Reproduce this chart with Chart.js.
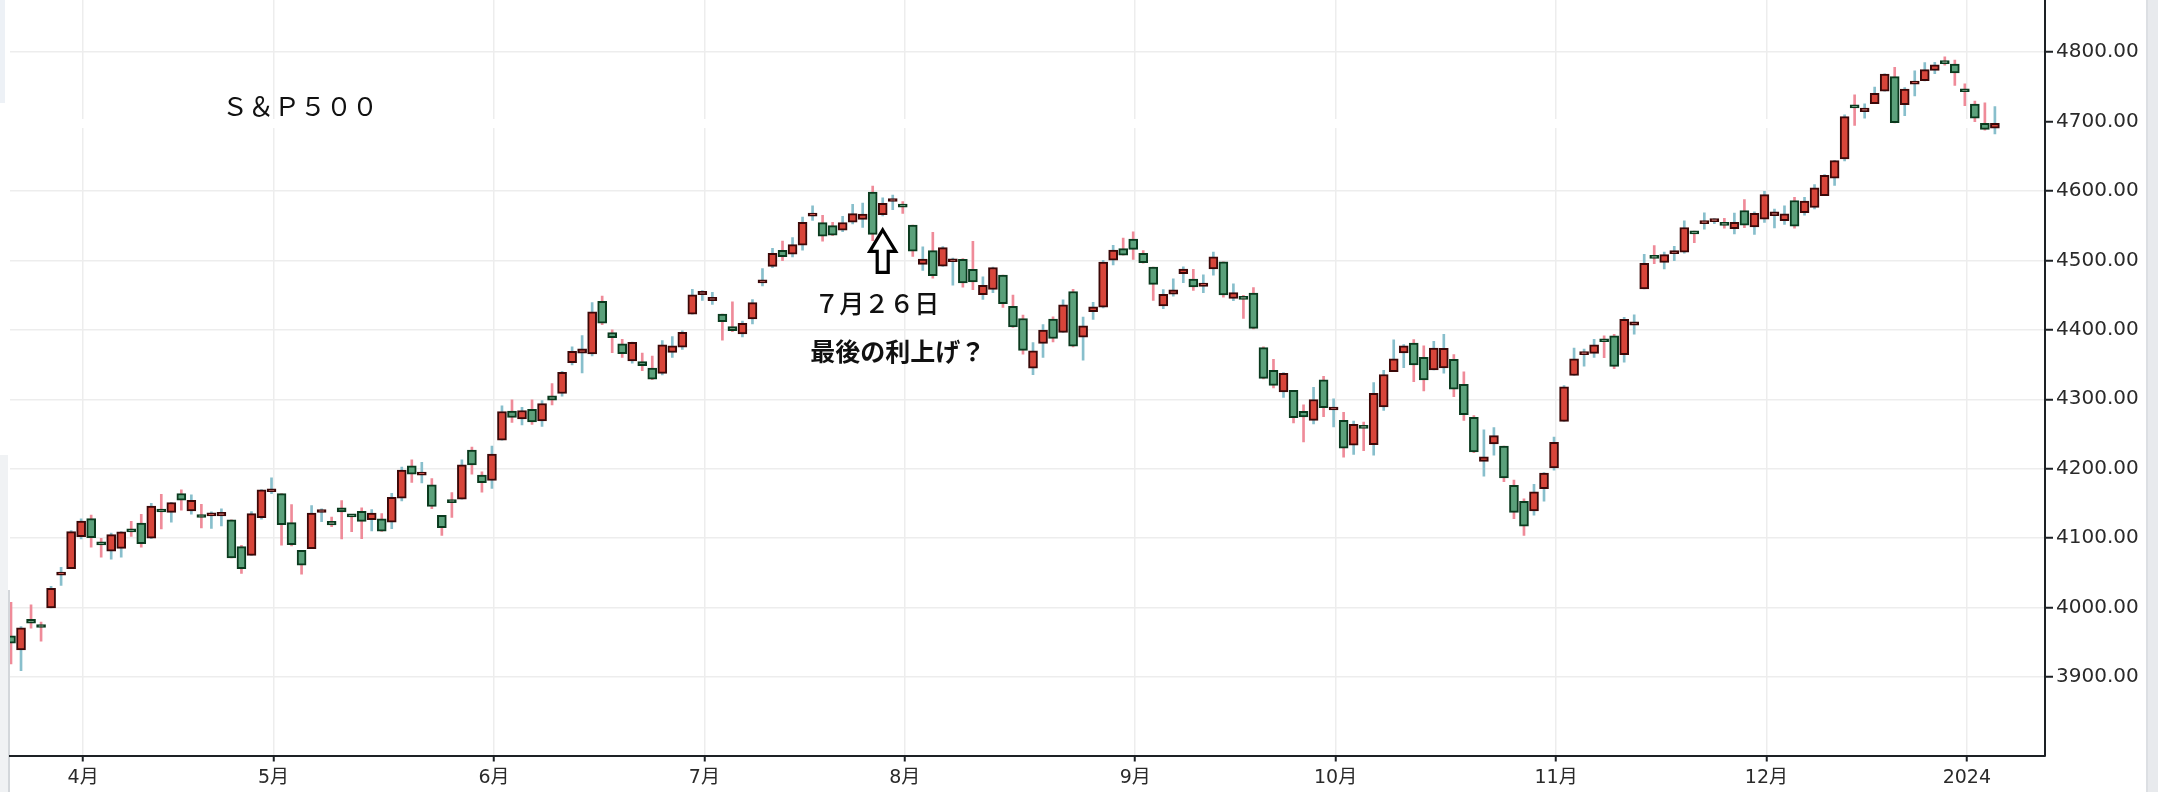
<!DOCTYPE html>
<html>
<head>
<meta charset="utf-8">
<title>S&P500</title>
<script src="https://cdn.jsdelivr.net/npm/chart.js@4.4.1/dist/chart.umd.min.js"></script>
<style>
  html, body { margin: 0; padding: 0; background: #fff; }
  #wrap { position: relative; width: 2158px; height: 792px; }
</style>
</head>
<body>
<div id="wrap"><canvas id="myChart"></canvas></div>
<script>
const dates = [
  "2023-03-23","2023-03-24","2023-03-27","2023-03-28","2023-03-29","2023-03-30","2023-03-31",
  "2023-04-03","2023-04-04","2023-04-05","2023-04-06","2023-04-10","2023-04-11","2023-04-12","2023-04-13","2023-04-14","2023-04-17","2023-04-18","2023-04-19","2023-04-20","2023-04-21","2023-04-24","2023-04-25","2023-04-26","2023-04-27","2023-04-28",
  "2023-05-01","2023-05-02","2023-05-03","2023-05-04","2023-05-05","2023-05-08","2023-05-09","2023-05-10","2023-05-11","2023-05-12","2023-05-15","2023-05-16","2023-05-17","2023-05-18","2023-05-19","2023-05-22","2023-05-23","2023-05-24","2023-05-25","2023-05-26","2023-05-30","2023-05-31",
  "2023-06-01","2023-06-02","2023-06-05","2023-06-06","2023-06-07","2023-06-08","2023-06-09","2023-06-12","2023-06-13","2023-06-14","2023-06-15","2023-06-16","2023-06-20","2023-06-21","2023-06-22","2023-06-23","2023-06-26","2023-06-27","2023-06-28","2023-06-29","2023-06-30",
  "2023-07-03","2023-07-05","2023-07-06","2023-07-07","2023-07-10","2023-07-11","2023-07-12","2023-07-13","2023-07-14","2023-07-17","2023-07-18","2023-07-19","2023-07-20","2023-07-21","2023-07-24","2023-07-25","2023-07-26","2023-07-27","2023-07-28","2023-07-31",
  "2023-08-01","2023-08-02","2023-08-03","2023-08-04","2023-08-07","2023-08-08","2023-08-09","2023-08-10","2023-08-11","2023-08-14","2023-08-15","2023-08-16","2023-08-17","2023-08-18","2023-08-21","2023-08-22","2023-08-23","2023-08-24","2023-08-25","2023-08-28","2023-08-29","2023-08-30","2023-08-31",
  "2023-09-01","2023-09-05","2023-09-06","2023-09-07","2023-09-08","2023-09-11","2023-09-12","2023-09-13","2023-09-14","2023-09-15","2023-09-18","2023-09-19","2023-09-20","2023-09-21","2023-09-22","2023-09-25","2023-09-26","2023-09-27","2023-09-28","2023-09-29",
  "2023-10-02","2023-10-03","2023-10-04","2023-10-05","2023-10-06","2023-10-09","2023-10-10","2023-10-11","2023-10-12","2023-10-13","2023-10-16","2023-10-17","2023-10-18","2023-10-19","2023-10-20","2023-10-23","2023-10-24","2023-10-25","2023-10-26","2023-10-27","2023-10-30","2023-10-31",
  "2023-11-01","2023-11-02","2023-11-03","2023-11-06","2023-11-07","2023-11-08","2023-11-09","2023-11-10","2023-11-13","2023-11-14","2023-11-15","2023-11-16","2023-11-17","2023-11-20","2023-11-21","2023-11-22","2023-11-24","2023-11-27","2023-11-28","2023-11-29","2023-11-30",
  "2023-12-01","2023-12-04","2023-12-05","2023-12-06","2023-12-07","2023-12-08","2023-12-11","2023-12-12","2023-12-13","2023-12-14","2023-12-15","2023-12-18","2023-12-19","2023-12-20","2023-12-21","2023-12-22","2023-12-26","2023-12-27","2023-12-28","2023-12-29",
  "2024-01-02","2024-01-03","2024-01-04","2024-01-05"
];

const opens = [
  3959.21,3939.21,3982.93,3974.13,3999.53,4046.74,4056.18,
  4102.20,4128.03,4094.50,4081.15,4085.20,4110.29,4121.72,4100.04,4140.11,4137.17,4164.26,4139.33,4130.48,4132.14,4132.07,4126.43,4087.78,4075.29,4129.63,
  4166.79,4164.10,4122.25,4082.61,4084.73,4136.98,4124.25,4143.74,4132.24,4138.54,4126.65,4127.95,4122.85,4157.68,4204.15,4190.78,4176.80,4132.96,4155.71,4156.16,4226.71,4190.74,
  4183.03,4241.01,4282.99,4271.61,4285.47,4268.69,4304.88,4308.32,4352.61,4366.29,4365.33,4440.95,4396.11,4380.01,4355.40,4354.17,4344.84,4337.36,4367.48,4374.94,4422.44,
  4450.48,4442.04,4422.62,4404.54,4394.23,4415.55,4467.69,4491.50,4514.61,4508.86,4521.78,4563.87,4554.38,4550.16,4543.39,4555.19,4558.96,4598.26,4565.75,4584.82,
  4578.83,4550.93,4494.27,4513.96,4491.58,4498.03,4501.57,4487.16,4450.69,4458.13,4478.87,4433.79,4416.32,4344.88,4380.28,4415.33,4396.44,4455.16,4389.38,4426.03,4432.75,4500.34,4517.01,
  4530.60,4510.06,4490.35,4434.55,4451.30,4480.98,4473.27,4462.65,4487.78,4497.98,4445.13,4445.41,4452.81,4374.36,4341.74,4310.62,4312.88,4282.63,4269.65,4328.18,
  4284.52,4269.75,4233.83,4259.31,4234.79,4289.02,4339.75,4366.59,4380.94,4360.49,4342.37,4345.23,4357.35,4321.36,4273.85,4210.40,4235.79,4232.42,4175.99,4152.93,4139.39,4171.33,
  4201.27,4268.26,4334.23,4364.27,4366.21,4384.37,4391.41,4364.15,4406.66,4458.97,4505.30,4497.08,4509.55,4511.70,4538.77,4553.04,4555.84,4554.86,4545.55,4571.84,4548.37,
  4559.43,4564.37,4557.25,4586.23,4568.84,4576.20,4593.39,4618.30,4646.20,4721.04,4714.23,4725.58,4743.72,4764.73,4724.29,4753.92,4758.86,4773.45,4786.44,4782.88,
  4745.20,4725.07,4697.42,4690.57
];

const highs = [
  4007.66,3972.74,4003.83,3979.20,4030.59,4057.85,4110.75,
  4127.66,4133.13,4099.69,4107.32,4109.50,4124.26,4134.37,4150.26,4163.19,4151.72,4169.48,4162.57,4148.57,4138.02,4142.41,4126.43,4089.67,4138.24,4170.06,
  4186.92,4164.10,4148.30,4082.61,4147.02,4142.30,4130.35,4154.28,4132.80,4143.74,4141.25,4135.54,4164.67,4202.20,4212.91,4209.22,4185.68,4132.96,4165.74,4212.87,4231.10,4195.44,
  4232.43,4290.67,4299.28,4288.33,4299.19,4298.01,4322.62,4340.13,4375.37,4391.82,4439.20,4448.47,4400.15,4386.22,4382.25,4366.55,4362.06,4384.42,4390.35,4398.39,4458.48,
  4456.46,4454.06,4422.62,4440.39,4412.60,4443.64,4488.34,4517.38,4527.76,4532.85,4562.30,4578.43,4564.74,4555.00,4563.41,4580.62,4582.47,4607.07,4590.16,4594.22,
  4584.62,4550.93,4519.49,4540.34,4519.84,4503.31,4502.44,4527.37,4476.23,4490.33,4478.87,4449.95,4421.17,4381.82,4407.55,4418.59,4443.18,4458.30,4418.46,4439.56,4500.14,4521.65,4532.26,
  4541.25,4514.29,4490.35,4457.81,4473.53,4490.77,4487.11,4479.39,4511.99,4497.98,4466.36,4449.85,4461.03,4375.70,4357.40,4338.51,4313.01,4292.07,4317.27,4333.15,
  4300.58,4281.15,4268.50,4267.13,4324.10,4341.73,4385.46,4378.64,4385.85,4377.10,4383.33,4393.57,4364.20,4339.54,4276.56,4255.84,4259.38,4232.42,4183.60,4156.70,4177.47,4194.33,
  4245.64,4319.72,4373.62,4372.21,4386.26,4391.20,4393.40,4418.03,4421.76,4508.67,4521.17,4511.99,4520.12,4557.11,4542.14,4568.43,4560.31,4560.52,4568.14,4587.64,4569.89,
  4599.39,4574.06,4578.56,4590.74,4590.92,4609.23,4623.71,4643.93,4709.69,4738.57,4725.53,4749.52,4768.69,4778.01,4748.71,4772.94,4784.72,4785.39,4793.30,4788.43,
  4754.33,4729.29,4726.78,4721.49
];

const lows = [
  3919.05,3909.16,3970.49,3951.53,3999.53,4032.10,4056.18,
  4098.79,4086.87,4072.56,4069.84,4072.55,4102.61,4086.94,4099.40,4113.20,4123.18,4140.36,4134.49,4114.57,4113.86,4117.77,4071.38,4049.35,4075.29,4127.18,
  4164.12,4089.72,4088.86,4048.28,4084.73,4123.81,4116.65,4098.92,4109.29,4099.12,4110.27,4109.86,4113.62,4153.50,4180.20,4179.68,4142.54,4103.98,4129.73,4156.16,4192.18,4166.15,
  4171.64,4241.01,4266.82,4263.09,4263.96,4261.07,4291.70,4304.37,4349.31,4337.85,4362.60,4407.44,4367.19,4360.14,4351.82,4341.34,4328.08,4335.00,4360.22,4371.97,4422.44,
  4442.29,4436.61,4385.05,4397.40,4389.92,4408.46,4463.23,4489.36,4499.56,4504.90,4514.59,4557.48,4527.56,4535.79,4541.29,4552.42,4547.58,4528.56,4564.01,4573.14,
  4567.53,4505.75,4485.54,4474.55,4491.15,4464.39,4461.33,4457.92,4443.98,4453.44,4432.19,4403.55,4364.83,4335.31,4360.30,4382.77,4396.44,4375.55,4356.29,4414.98,4431.68,4493.59,4507.39,
  4501.35,4496.01,4442.38,4430.46,4448.38,4467.89,4456.83,4453.52,4478.69,4447.21,4442.11,4416.61,4401.38,4329.17,4316.49,4302.70,4265.98,4238.63,4264.38,4274.86,
  4260.21,4216.45,4220.48,4225.91,4219.55,4283.79,4339.64,4345.34,4325.43,4311.97,4342.37,4337.54,4303.84,4269.69,4223.03,4189.22,4219.43,4181.42,4127.90,4103.78,4132.94,4153.12,
  4197.74,4268.26,4334.23,4347.53,4360.30,4359.76,4343.94,4353.34,4393.82,4458.97,4495.31,4487.83,4499.66,4510.36,4525.51,4545.05,4552.80,4546.32,4537.96,4547.15,4537.24,
  4554.71,4546.72,4551.68,4546.50,4565.22,4574.06,4593.39,4608.09,4643.23,4694.34,4704.69,4725.58,4743.72,4697.82,4708.35,4736.77,4758.45,4768.90,4780.98,4751.99,
  4722.67,4699.71,4687.53,4682.11
];

const closes = [
  3948.72,3970.99,3977.53,3971.27,4027.81,4050.83,4109.31,
  4124.51,4100.60,4090.38,4105.02,4109.11,4108.94,4091.95,4146.22,4137.64,4151.32,4154.87,4154.52,4129.79,4133.52,4137.04,4071.63,4055.99,4135.35,4169.48,
  4167.87,4119.58,4090.75,4061.22,4136.25,4138.12,4119.17,4137.64,4130.62,4124.08,4136.28,4109.90,4158.77,4198.05,4191.98,4192.63,4145.58,4115.24,4151.28,4205.45,4205.52,4179.83,
  4221.02,4282.37,4273.79,4283.85,4267.52,4293.93,4298.86,4338.93,4369.01,4372.59,4425.84,4409.59,4388.71,4365.69,4381.89,4348.33,4328.82,4378.41,4376.86,4396.44,4450.38,
  4455.59,4446.82,4411.59,4398.95,4409.53,4439.26,4472.16,4510.04,4505.42,4522.79,4554.98,4565.72,4534.87,4536.34,4554.64,4567.46,4566.75,4537.41,4582.23,4588.96,
  4576.73,4513.39,4501.89,4478.03,4518.44,4499.38,4467.71,4468.83,4464.05,4489.72,4437.86,4404.33,4370.36,4369.71,4399.77,4387.55,4436.01,4376.31,4405.71,4433.31,4497.63,4514.87,4507.66,
  4515.77,4496.83,4465.48,4451.14,4457.49,4487.46,4461.90,4467.44,4505.10,4450.32,4453.53,4443.95,4402.20,4330.00,4320.06,4337.44,4273.53,4274.51,4299.70,4288.05,
  4288.39,4229.45,4263.75,4258.19,4308.50,4335.66,4358.24,4376.95,4349.61,4327.78,4373.63,4373.20,4314.60,4278.00,4224.16,4217.04,4247.68,4186.77,4137.23,4117.37,4166.82,4193.80,
  4237.86,4317.78,4358.34,4365.98,4378.38,4382.78,4347.35,4415.24,4411.55,4495.70,4502.88,4508.24,4514.02,4547.38,4538.19,4556.62,4559.34,4550.43,4554.89,4550.58,4567.80,
  4594.63,4569.78,4567.18,4549.34,4585.59,4604.37,4622.44,4643.70,4707.09,4719.55,4719.19,4740.56,4768.37,4698.35,4746.75,4754.63,4774.75,4781.58,4783.35,4769.83,
  4742.83,4704.81,4688.68,4697.24
];

const monthLabels = ["4月","5月","6月","7月","8月","9月","10月","11月","12月","2024"];
const yTicks = [3900, 4000, 4100, 4200, 4300, 4400, 4500, 4600, 4700, 4800];

const titleText = "Ｓ＆Ｐ５００";
const noteDate = "2023-07-28";
const noteValue = 4546;
const noteLines = ["７月２６日", "最後の利上げ？"];

// first trading day of each month gets a tick
const monthStarts = dates
  .map((d, i) => (i > 0 && d.slice(0, 7) !== dates[i - 1].slice(0, 7) ? i : -1))
  .filter((i) => i >= 0);

const upBody = "#d8453a", upBorder = "#3a0808", upWick = "#88bfcc";
const downBody = "#5ba17b", downBorder = "#0a3a1e", downWick = "#ef8b99";
const isUp = (i) => closes[i] >= opens[i];

const bodies = dates.map((d, i) => ({ x: i, y: [opens[i], closes[i]] }));
const wicks = dates.map((d, i) => ({ x: i, y: [lows[i], highs[i]] }));

const gridColor = "#ededed";
const axisColor = "#1d2125";
const tickFont = { family: '"DejaVu Sans", "Noto Sans CJK JP", sans-serif' };

const decor = {
  id: "decor",
  beforeDraw(chart) {
    const { ctx, width, height } = chart;
    ctx.save();
    ctx.fillStyle = "#edf1f6";
    ctx.fillRect(0, 0, 5, 103);
    ctx.fillStyle = "#f0f2f4";
    ctx.fillRect(0, 455, 8, height - 455);
    ctx.fillStyle = "#d3d7db";
    ctx.fillRect(8, 590, 2, height - 590);
    ctx.fillStyle = "#e8eaed";
    ctx.fillRect(width - 12, 0, 12, height);
    ctx.fillStyle = "#dcdfe3";
    ctx.fillRect(width - 12, 0, 2, height);
    ctx.restore();
  },
  beforeDatasetsDraw(chart) {
    const { ctx, chartArea } = chart;
    ctx.save();
    ctx.fillStyle = "#fff";
    ctx.fillRect(0, 119, chartArea.right - 1, 9);
    ctx.restore();
  },
  afterDraw(chart) {
    const { ctx, chartArea } = chart;
    const xs = chart.scales.x, ys = chart.scales.y;
    ctx.save();
    ctx.fillStyle = "#111";
    ctx.textAlign = "center";
    ctx.textBaseline = "middle";
    ctx.font = '26px "Noto Sans CJK JP"';
    ctx.fillText(titleText, chartArea.left + 290, 106);

    const ax = xs.getPixelForValue(dates.indexOf(noteDate));
    const ay = ys.getPixelForValue(noteValue);
    ctx.beginPath();
    ctx.moveTo(ax, ay + 1.5);
    ctx.lineTo(ax + 13, ay + 23);
    ctx.lineTo(ax + 5.5, ay + 23);
    ctx.lineTo(ax + 5.5, ay + 44);
    ctx.lineTo(ax - 5.5, ay + 44);
    ctx.lineTo(ax - 5.5, ay + 23);
    ctx.lineTo(ax - 13, ay + 23);
    ctx.closePath();
    ctx.fillStyle = "#fff";
    ctx.fill();
    ctx.lineWidth = 3.2;
    ctx.lineJoin = "miter";
    ctx.strokeStyle = "#000";
    ctx.stroke();

    ctx.fillStyle = "#111";
    ctx.font = '500 25px "Noto Sans CJK JP"';
    ctx.fillText(noteLines[0], ax - 6, ay + 75);
    ctx.font = 'bold 25px "Noto Sans CJK JP"';
    ctx.fillText(noteLines[1], ax + 15, ay + 123);
    ctx.restore();
  }
};

new Chart(document.getElementById("myChart"), {
  type: "bar",
  data: {
    datasets: [
      {
        label: "body",
        data: bodies,
        grouped: false,
        order: 0,
        barThickness: 9,
        minBarLength: 3,
        borderWidth: 2,
        borderSkipped: false,
        backgroundColor: (c) => (isUp(c.dataIndex) ? upBody : downBody),
        borderColor: (c) => (isUp(c.dataIndex) ? upBorder : downBorder),
      },
      {
        label: "wick",
        data: wicks,
        grouped: false,
        order: 1,
        barThickness: 2,
        borderWidth: 0,
        backgroundColor: (c) => (isUp(c.dataIndex) ? upWick : downWick),
      },
    ],
  },
  options: {
    responsive: true,
    maintainAspectRatio: false,
    animation: false,
    events: [],
    layout: { padding: { left: 10, right: 0, top: 0, bottom: 0 } },
    plugins: { legend: { display: false }, tooltip: { enabled: false } },
    scales: {
      x: {
        type: "linear",
        min: -0.1,
        max: 203.0,
        offset: false,
        afterBuildTicks: (s) => {
          s.ticks = monthStarts.map((i) => ({ value: i + 0.2 }));
        },
        afterFit: (s) => {
          s.height = 36.5;
          s.paddingLeft = 0;
          s.paddingRight = 0;
        },
        grid: { offset: false, color: gridColor, lineWidth: 1.5, tickLength: 6, tickColor: axisColor, tickWidth: 2 },
        border: { color: axisColor, width: 2 },
        ticks: {
          padding: 5,
          color: "#2a2a2a",
          maxRotation: 0,
          autoSkip: false,
          font: { ...tickFont, size: 19 },
          callback: (v, i) => monthLabels[i],
        },
      },
      y: {
        position: "right",
        min: 3787,
        max: 4875,
        beginAtZero: false,
        afterBuildTicks: (s) => {
          s.ticks = yTicks.map((v) => ({ value: v }));
        },
        afterFit: (s) => {
          s.width = 113;
          s.paddingTop = 0;
          s.paddingBottom = 0;
        },
        grid: { color: gridColor, lineWidth: 1.5, tickLength: 8, tickColor: axisColor, tickWidth: 2 },
        border: { color: axisColor, width: 2 },
        ticks: {
          padding: 3,
          color: "#2a2a2a",
          font: { ...tickFont, size: 20 },
          callback: (v) => Number(v).toFixed(2),
        },
      },
    },
  },
  plugins: [decor],
});
</script>
</body>
</html>
